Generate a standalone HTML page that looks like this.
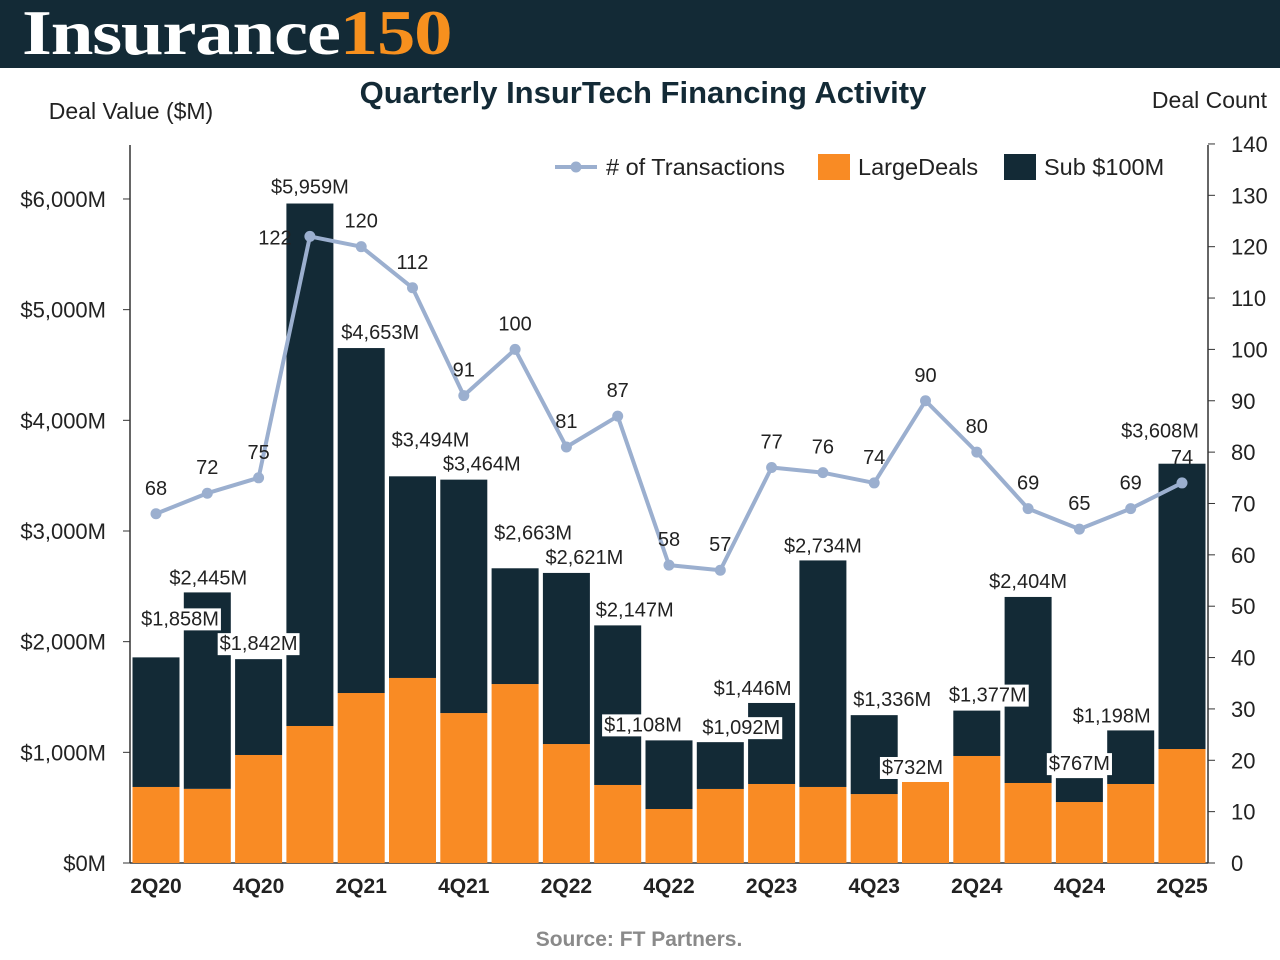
<!DOCTYPE html>
<html><head><meta charset="utf-8"><style>
body{margin:0;background:#fff;font-family:"Liberation Sans",sans-serif}
#hdr{position:absolute;left:0;top:0;width:1280px;height:68px;background:#132a36}
</style></head><body>
<div id="hdr"><span style="position:absolute;left:22px;top:-4px;font-family:'Liberation Serif',serif;font-weight:bold;font-size:64px;color:#fff;letter-spacing:-1px;transform:scaleX(1.2);transform-origin:0 0;white-space:nowrap">Insurance<span style="color:#f7901e">150</span></span></div>
<svg id="c" width="1280" height="960" style="position:absolute;left:0;top:0"></svg>
<script>
const quarters=["2Q20","3Q20","4Q20","1Q21","2Q21","3Q21","4Q21","1Q22","2Q22","3Q22","4Q22","1Q23","2Q23","3Q23","4Q23","1Q24","2Q24","3Q24","4Q24","1Q25","2Q25"];
const totals=[1858,2445,1842,5959,4653,3494,3464,2663,2621,2147,1108,1092,1446,2734,1336,732,1377,2404,767,1198,3608];
const large=[687,670,976,1238,1536,1672,1355,1617,1075,705,488,669,714,687,623,732,967,723,551,714,1030];
const counts=[68,72,75,122,120,112,91,100,81,87,58,57,77,76,74,90,80,69,65,69,74];
const leftTicks=[0,1000,2000,3000,4000,5000,6000];
const rightTicks=[0,10,20,30,40,50,60,70,80,90,100,110,120,130,140];
const labDX=[24,1,0,0,19,18,18,18,18,17,-26,21,-19,0,18,-13,11,0,0,-19,-22];
const labDY=[-39,-15,-16,-17,-16,-37,-16,-36,-16,-16,-16,-15,-15,-15,-16,-15,-16,-16,-15,-15,-33];
const svg=document.getElementById('c');const NS='http://www.w3.org/2000/svg';
function mk(t,a,p){const e=document.createElementNS(NS,t);for(const k in a)e.setAttribute(k,a[k]);(p||svg).appendChild(e);return e;}
const y0=863;
const yL=v=>y0-v*0.11067;
const yR=v=>y0-v*5.136;
const xC=i=>156+i*51.3;
const bw=47;
const fmt=v=>'$'+v.toLocaleString('en-US')+'M';
let t=mk('text',{x:643,y:103,'text-anchor':'middle','font-size':31,'font-weight':'bold',fill:'#132a36'});t.textContent='Quarterly InsurTech Financing Activity';

t=mk('text',{x:131,y:119,'text-anchor':'middle','font-size':23,fill:'#222'});t.textContent='Deal Value ($M)';

t=mk('text',{x:1267,y:108,'text-anchor':'end','font-size':23,fill:'#222'});t.textContent='Deal Count';

t=mk('text',{x:639,y:946,'text-anchor':'middle','font-size':21,'font-weight':'bold',fill:'#8a8a8a'});t.textContent='Source: FT Partners.';

mk('line',{x1:130,y1:145,x2:130,y2:863,stroke:'#333','stroke-width':1.5});
mk('line',{x1:1208,y1:145,x2:1208,y2:863,stroke:'#333','stroke-width':1.5});
mk('line',{x1:130,y1:863,x2:1208,y2:863,stroke:'#333','stroke-width':1.5});
leftTicks.forEach(v=>{mk('line',{x1:123,y1:yL(v),x2:130,y2:yL(v),stroke:'#333'});
 const e=mk('text',{x:106,y:yL(v)+8,'text-anchor':'end','font-size':22,fill:'#222'});e.textContent=fmt(v);
 });
rightTicks.forEach(v=>{mk('line',{x1:1208,y1:yR(v),x2:1215,y2:yR(v),stroke:'#333'});
 const e=mk('text',{x:1231,y:yR(v)+8,'font-size':22,fill:'#222'});e.textContent=v;
 });
quarters.forEach((q,i)=>{
 const x=xC(i)-bw/2;
 const r1=mk('rect',{x:x,y:yL(large[i]),width:bw,height:y0-yL(large[i]),fill:'#f98b24'});
 
 const r2=mk('rect',{x:x,y:yL(totals[i]),width:bw,height:yL(large[i])-yL(totals[i]),fill:'#132a36'});
 
 if(i%2==0){const e=mk('text',{x:xC(i),y:893,'text-anchor':'middle','font-size':21,'font-weight':'bold',fill:'#222'});e.textContent=q;
  }
});
let d='';counts.forEach((c,i)=>{d+=(i?'L':'M')+xC(i)+','+yR(c);});
const pl=mk('path',{d:d,fill:'none',stroke:'#9bafcf','stroke-width':4,'stroke-linejoin':'round'});

counts.forEach((c,i)=>{const p=mk('circle',{cx:xC(i),cy:yR(c),r:5.5,fill:'#9bafcf'});
 
 const special=(i==3);
 const e=mk('text',{x:xC(i)+(special?-35:0),y:yR(c)+(special?8:-19),'text-anchor':'middle','font-size':20,fill:'#222'});e.textContent=c;
 });
totals.forEach((v,i)=>{
 const cx=xC(i)+labDX[i], cy=yL(v)+labDY[i];
 const e=mk('text',{x:cx,y:cy+7,'text-anchor':'middle','font-size':20,fill:'#222'});e.textContent=fmt(v);
 const bb=e.getBBox();
 const r=mk('rect',{x:bb.x-2,y:bb.y,width:bb.width+4,height:bb.height,fill:'#fff'});
 svg.insertBefore(r,e);
 });
const lg=mk('g',{});
mk('line',{x1:555,y1:167,x2:597,y2:167,stroke:'#9bafcf','stroke-width':4},lg);
mk('circle',{cx:576,cy:167,r:5.5,fill:'#9bafcf'},lg);
t=mk('text',{x:606,y:175,'font-size':23.5,fill:'#222'},lg);t.textContent='# of Transactions';
mk('rect',{x:818,y:154,width:32,height:26,fill:'#f98b24'},lg);
t=mk('text',{x:858,y:175,'font-size':23.5,fill:'#222'},lg);t.textContent='LargeDeals';
mk('rect',{x:1004,y:154,width:32,height:26,fill:'#132a36'},lg);
t=mk('text',{x:1044,y:175,'font-size':23.5,fill:'#222'},lg);t.textContent='Sub $100M';
</script>
</body></html>
